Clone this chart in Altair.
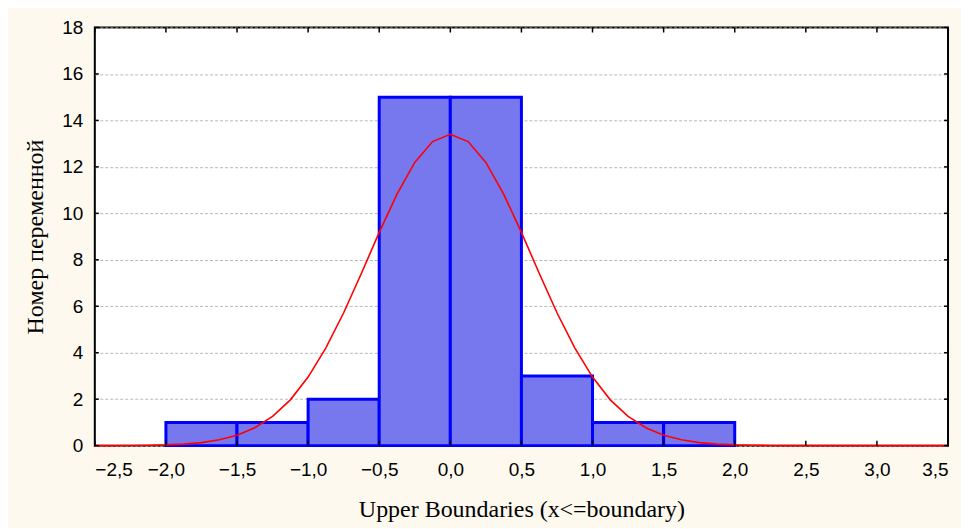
import altair as alt
import pandas as pd

# Histogram bins (upper boundaries) and counts
bin_lo = [-2.0, -1.5, -1.0, -0.5, 0.0, 0.5, 1.0, 1.5]
bin_hi = [-1.5, -1.0, -0.5, 0.0, 0.5, 1.0, 1.5, 2.0]
counts = [1, 1, 2, 15, 15, 3, 1, 1]

# Expected normal curve
curve_x = [-2.5, -2.375, -2.25, -2.125, -2.0, -1.875, -1.75, -1.625, -1.5, -1.375,
           -1.25, -1.125, -1.0, -0.875, -0.75, -0.625, -0.5, -0.375, -0.25, -0.125,
           0.0, 0.125, 0.25, 0.375, 0.5, 0.625, 0.75, 0.875, 1.0, 1.125,
           1.25, 1.375, 1.5, 1.625, 1.75, 1.875, 2.0, 2.125, 2.25, 2.375,
           2.5, 2.75, 3.0, 3.25, 3.5]
curve_y = [0.0, 0.0, 0.006, 0.014, 0.031, 0.066, 0.13, 0.25, 0.45, 0.77,
           1.26, 1.97, 2.95, 4.21, 5.72, 7.42, 9.18, 10.83, 12.19, 13.09,
           13.4, 13.09, 12.19, 10.83, 9.18, 7.42, 5.72, 4.21, 2.95, 1.97,
           1.26, 0.77, 0.45, 0.25, 0.13, 0.066, 0.031, 0.014, 0.006, 0.0,
           0.0, 0.0, 0.0, 0.0, 0.0]

x_ticks = [-2.5, -2.0, -1.5, -1.0, -0.5, 0.0, 0.5, 1.0, 1.5, 2.0, 2.5, 3.0, 3.5]
y_ticks = [0, 2, 4, 6, 8, 10, 12, 14, 16, 18]

W, H = 855, 419

bars = pd.DataFrame({"lo": bin_lo, "hi": bin_hi, "n": counts})
curve = pd.DataFrame({"x": curve_x, "y": curve_y})
xt = pd.DataFrame({"v": x_ticks})
yt = pd.DataFrame({"v": y_ticks})

xscale = alt.Scale(domain=[-2.5, 3.5], nice=False, zero=False)
yscale = alt.Scale(domain=[0, 18], nice=False)

xaxis = alt.Axis(
    values=x_ticks,
    labelExpr="replace(format(datum.value, '.1f'), '.', ',')",
    title="Upper Boundaries (x<=boundary)",
    titleFont="Liberation Serif", titleFontSize=24, titleFontWeight="normal",
    titleColor="black", titlePadding=18,
    labelFont="Liberation Sans", labelFontSize=19, labelColor="black",
    labelPadding=15, ticks=False, domain=False, grid=False,
)
yaxis = alt.Axis(
    values=y_ticks,
    title="Номер переменной",
    titleFont="Liberation Serif", titleFontSize=24, titleFontWeight="normal",
    titleColor="black", titlePadding=14,
    labelFont="Liberation Sans", labelFontSize=19, labelColor="black",
    labelPadding=12, ticks=False, domain=False,
    grid=True, gridColor="#b8b8b8", gridDash=[3, 2], gridWidth=1,
)

hist = alt.Chart(bars).mark_rect(
    fill="#7878ee", stroke="#0000ff", strokeWidth=3
).encode(
    x=alt.X("lo:Q", scale=xscale, axis=xaxis),
    x2="hi:Q",
    y=alt.Y("n:Q", scale=yscale, axis=yaxis),
    y2=alt.datum(0),
)

line = alt.Chart(curve).mark_line(color="#ff0000", strokeWidth=1.6).encode(
    x=alt.X("x:Q", scale=xscale),
    y=alt.Y("y:Q", scale=yscale),
)

tick_bottom = alt.Chart(xt).mark_rule(color="black", strokeWidth=1.5).encode(
    x=alt.X("v:Q", scale=xscale), y=alt.value(H - 5), y2=alt.value(H)
)
tick_top = alt.Chart(xt).mark_rule(color="black", strokeWidth=1.5).encode(
    x=alt.X("v:Q", scale=xscale), y=alt.value(0), y2=alt.value(5)
)
tick_right = alt.Chart(yt).mark_rule(color="black", strokeWidth=1.5).encode(
    y=alt.Y("v:Q", scale=yscale), x=alt.value(W - 4), x2=alt.value(W)
)
tick_left = alt.Chart(yt).mark_rule(color="black", strokeWidth=1.5).encode(
    y=alt.Y("v:Q", scale=yscale), x=alt.value(0), x2=alt.value(4)
)

chart = alt.layer(hist, line, tick_bottom, tick_top, tick_right, tick_left).properties(
    width=W, height=H,
    background="#fdf9ef",
    padding={"left": 87, "top": 19, "right": 13, "bottom": 82},
    autosize=alt.AutoSizeParams(type="none"),
).configure_view(
    fill="white", stroke="black", strokeWidth=2
)

chart.save("out.html", embed_options={"renderer": "svg", "actions": False})
